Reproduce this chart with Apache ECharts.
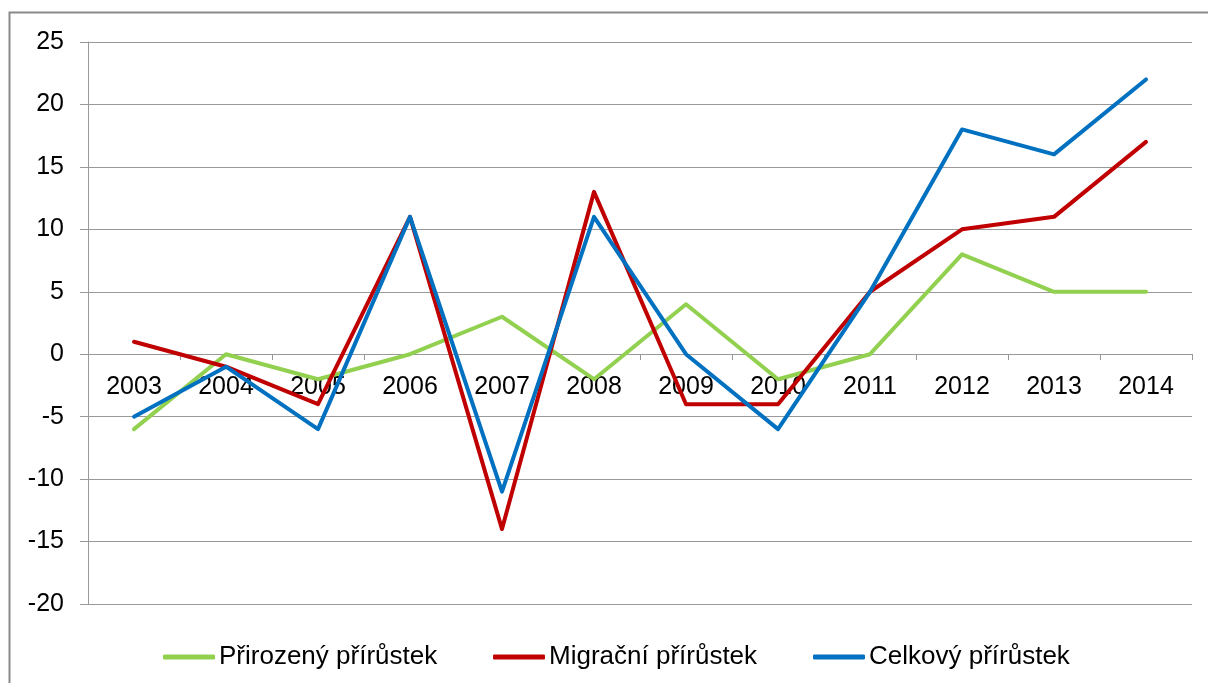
<!DOCTYPE html>
<html><head><meta charset="utf-8">
<script src="https://cdn.jsdelivr.net/npm/echarts@6/dist/echarts.min.js"></script>
<style>html,body{margin:0;padding:0;background:#fff}#c{width:1208px;height:683px}</style>
</head><body><div id="c"></div>
<script>
const categories = ['2003','2004','2005','2006','2007','2008','2009','2010','2011','2012','2013','2014'];
const prirozeny = [-6, 0, -2, 0, 3, -2, 4, -2, 0, 8, 5, 5];
const migracni = [1, -1, -4, 11, -14, 13, -4, -4, 5, 10, 11, 17];
const celkovy = [-5, -1, -6, 11, -11, 11, 0, -6, 5, 18, 16, 22];
const seriesNames = ['Přirozený přírůstek', 'Migrační přírůstek', 'Celkový přírůstek'];
const colors = ['#92D050', '#C00000', '#0070C0'];

const chart = echarts.init(document.getElementById('c'), null, {renderer: 'canvas'});
const font = 'Liberation Sans, Arial, sans-serif';
const legendLeft = [163, 493, 813];
chart.setOption({
  animation: false,
  backgroundColor: '#fff',
  graphic: [{
    type: 'rect', shape: {x: 9.5, y: 12.5, width: 1300, height: 800},
    style: {fill: 'none', stroke: '#8a8a8a', lineWidth: 2}, silent: true, z: -1
  }],
  grid: {left: 88, right: 16, top: 42, bottom: 79, containLabel: false},
  legend: seriesNames.map((n, i) => ({
    left: legendLeft[i], top: 644, padding: 0, itemWidth: 52, itemHeight: 5,
    icon: 'roundRect',
    textStyle: {fontFamily: font, fontSize: 26, color: '#000', padding: [0,0,0,-1]},
    data: [n]
  })),
  xAxis: {
    type: 'category', data: categories, boundaryGap: true,
    position: 'bottom', offset: -250,
    axisLine: {onZero: false, lineStyle: {color: '#999', width: 1}},
    axisTick: {show: true, length: 6, lineStyle: {color: '#999'}},
    axisLabel: {fontFamily: font, fontSize: 25, color: '#000', margin: 21},
    splitLine: {show: false}
  },
  yAxis: {
    type: 'value', min: -20, max: 25, interval: 5,
    axisLine: {show: true, lineStyle: {color: '#999', width: 1}},
    axisTick: {show: true, length: 8, lineStyle: {color: '#999'}},
    axisLabel: {fontFamily: font, fontSize: 25, color: '#000', margin: 24},
    splitLine: {show: true, lineStyle: {color: '#999', width: 1}}
  },
  series: [prirozeny, migracni, celkovy].map((d, i) => ({
    name: seriesNames[i], type: 'line', data: d, symbol: 'none',
    lineStyle: {color: colors[i], width: 4, cap: 'round', join: 'round'},
    itemStyle: {color: colors[i]}
  }))
});
</script></body></html>
